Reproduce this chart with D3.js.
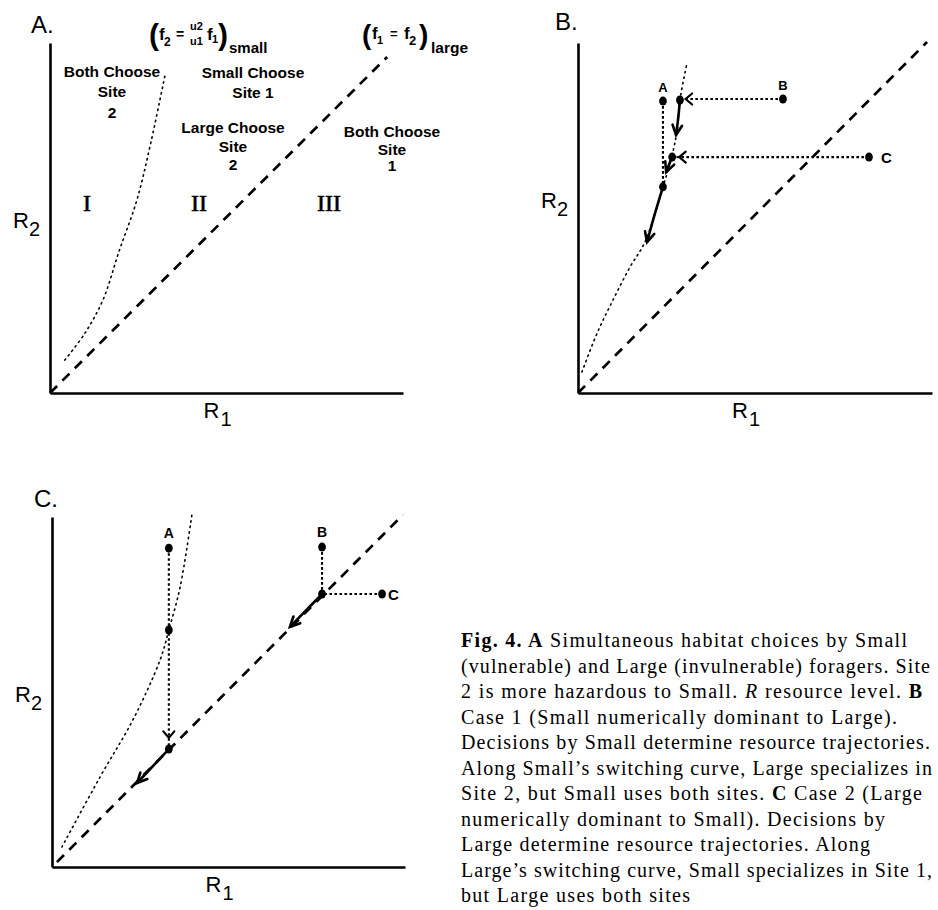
<!DOCTYPE html>
<html><head><meta charset="utf-8">
<script src="https://cdn.jsdelivr.net/npm/d3@7"></script>
<style>body{margin:0;background:#fff}</style>
</head><body>
<svg id="c" width="938" height="910" xmlns="http://www.w3.org/2000/svg"></svg>
<script>
// ---------- data (R1, R2 in arbitrary resource units 0..100) ----------
// switching curve of Small (dotted), per panel
const curveA = [[4.2,9.4],[9.9,17.1],[15.0,26.6],[19.5,40.3],[24.6,55.1],[28.6,71.7],[32.6,90.9]];
const curveB = [[1.1,6.0],[5.4,17.1],[9.9,26.6],[14.7,36.0],[18.9,43.1],[24.0,58.9],[26.6,68.0],[28.0,75.1],[28.8,83.7],[30.8,94.3]];
const curveC = [[2.8,5.7],[13.6,25.7],[22.9,42.0],[30.6,59.1],[33.1,67.7],[36.3,80.0],[39.7,101.1]];
// switching line of Large (dashed, f1 = f2)
const lineA = [[0,0],[95.5,96.0]];
const lineB = [[0,0],[98.6,100.3]];
const lineC = [[1.4,1.4],[99.4,100.6]];

// panel B: starting points, points reached on the curve
const startB = [{id:"A",x:24.0,y:83.4},{id:"B",x:57.9,y:84.0},{id:"C",x:82.2,y:67.4}];
const curvePtsB = [[28.8,83.7],[26.6,67.4],[24.0,58.9]];
const dottedB = [ [[57.9,84.0],[29.2,84.0]], [[82.2,67.4],[27.0,67.4]], [[24.0,83.4],[24.0,59.8]] ];
const chevronB = [ {x:30.4,y:84.0,dir:[-1,0]}, {x:28.6,y:67.4,dir:[-1,0]} ];
const solidB = [ [[28.8,83.7],[28.3,78.5],[27.7,73.7]], [[26.6,67.4],[25.7,65.2],[24.9,63.1]], [[24.0,58.9],[21.6,50.8],[19.5,43.1]] ];

// panel C
const startC = [{id:"A",x:33.1,y:91.1},{id:"B",x:76.5,y:91.4},{id:"C",x:93.5,y:78.0}];
const curvePtsC = [[33.1,67.7],[33.1,33.7],[76.5,78.0]];
const dottedC = [ [[33.1,91.1],[33.1,34.5]], [[76.5,91.4],[76.5,78.0]], [[93.5,78.0],[76.5,78.0]] ];
const chevronC = [ {x:33.1,y:36.9,dir:[0,-1]} ];
const solidC = [ [[33.1,33.7],[24.1,24.0]], [[76.5,78.0],[67.4,68.6]] ];

// region labels for panel A
const regionLabels = [["Both Choose","Site","2"],["Small Choose","Site 1"],["Large Choose","Site","2"],["Both Choose","Site","1"]];
const romanLabels = ["I","II","III"];

// ---------- drawing ----------
const svg = d3.select("#c");
const SANS = "'Liberation Sans', Arial, sans-serif";
const SERIF = "'Liberation Serif', 'Times New Roman', serif";

function panel(x0, x1, y0, y1){
  const x = d3.scaleLinear().domain([0,100]).range([x0, x1]);
  const y = d3.scaleLinear().domain([0,100]).range([y0, y1]);
  return {x, y};
}
const P = {
  A: panel(50, 403, 393, 43),
  B: panel(578, 932, 393, 43),
  C: panel(52, 405, 867, 517)
};

function axes(p){
  const g = svg.append("g");
  g.append("g").attr("transform",`translate(0,${p.y(0)})`)
    .call(d3.axisBottom(p.x).tickValues([]).tickSizeOuter(0));
  g.append("g").attr("transform",`translate(${p.x(0)},0)`)
    .call(d3.axisLeft(p.y).tickValues([]).tickSizeOuter(0));
  g.selectAll(".domain").attr("stroke","#000").attr("stroke-width",2.6);
}
function lineGen(p, curve){ return d3.line().x(d=>p.x(d[0])).y(d=>p.y(d[1])).curve(curve||d3.curveLinear); }

function drawCurve(p, data){
  svg.append("path").attr("d", lineGen(p, d3.curveCatmullRom)(data))
    .attr("fill","none").attr("stroke","#000").attr("stroke-width",1.6)
    .attr("stroke-dasharray","1.4,4.2").attr("stroke-linecap","round");
}
function drawDashed(p, data){
  svg.append("path").attr("d", lineGen(p)(data))
    .attr("fill","none").attr("stroke","#000").attr("stroke-width",2.7)
    .attr("stroke-dasharray","10,7.5");
}
function drawDotted(p, data){
  svg.append("path").attr("d", lineGen(p)(data))
    .attr("fill","none").attr("stroke","#000").attr("stroke-width",2.1)
    .attr("stroke-dasharray","2.6,2.4");
}
function head(px, py, ang, len, spread, sw){
  const a1 = ang + Math.PI - spread, a2 = ang + Math.PI + spread;
  svg.append("path")
    .attr("d",`M${px+len*Math.cos(a1)},${py+len*Math.sin(a1)}L${px},${py}L${px+len*Math.cos(a2)},${py+len*Math.sin(a2)}`)
    .attr("fill","none").attr("stroke","#000").attr("stroke-width",sw).attr("stroke-linejoin","miter").attr("stroke-linecap","round");
}
function drawSolid(p, data){
  svg.append("path").attr("d", lineGen(p, d3.curveCatmullRom)(data))
    .attr("fill","none").attr("stroke","#000").attr("stroke-width",2.6);
  const a = data[data.length-2], b = data[data.length-1];
  const ang = Math.atan2(p.y(b[1])-p.y(a[1]), p.x(b[0])-p.x(a[0]));
  head(p.x(b[0]), p.y(b[1]), ang, 11, 0.45, 2.6);
}
function drawChevron(p, c){
  const ang = Math.atan2(-c.dir[1], c.dir[0]);
  head(p.x(c.x), p.y(c.y), ang, 8.5, 0.7, 2.2);
}
function dots(p, pts){
  svg.append("g").selectAll("ellipse").data(pts).join("ellipse")
    .attr("cx",d=>p.x(d[0])).attr("cy",d=>p.y(d[1])).attr("rx",3.9).attr("ry",4.5).attr("fill","#000");
}
function text(x, y, s, size, opts={}){
  return svg.append("text").attr("x",x).attr("y",y).text(s)
    .attr("font-family",opts.family||SANS).attr("font-size",size)
    .attr("font-weight",opts.weight||"normal").attr("text-anchor",opts.anchor||"start")
    .attr("fill","#000");
}
function axisLabels(p, letter, lx, ly){
  text(lx, ly, letter, 24);
  const r2 = svg.append("text").attr("font-family",SANS).attr("font-size",22).attr("fill","#000")
    .attr("x", p.x(0)-37).attr("y", (p.y(0)+p.y(100))/2 + (letter==="B."?-10:10));
  r2.append("tspan").text("R");
  r2.append("tspan").text("2").attr("dy",8).attr("font-size",20);
  const r1 = svg.append("text").attr("font-family",SANS).attr("font-size",22).attr("fill","#000")
    .attr("x", p.x(43.5)).attr("y", p.y(0)+25);
  r1.append("tspan").text("R");
  r1.append("tspan").text("1").attr("dy",8).attr("font-size",20).attr("dx",1);
}
// one text element made of positioned pieces: [str, x, y, size]
function formula(pieces){
  const t = svg.append("text").attr("font-family",SANS).attr("font-weight","bold").attr("fill","#000");
  pieces.forEach(([s,x,y,sz])=> t.append("tspan").attr("x",x).attr("y",y).attr("font-size",sz).text(s));
}

// ---- Panel A ----
(function(){
  const p = P.A;
  axes(p);
  drawCurve(p, curveA);
  drawDashed(p, lineA);
  axisLabels(p, "A.", 31, 33);
  const B = "bold";
  const pos = [[112,[77,97,118]],[253,[78,98]],[233,[133,152,170]],[392,[137,155,171]]];
  regionLabels.forEach((lines,i)=>{
    lines.forEach((s,j)=> text(pos[i][0], pos[i][1][j], s, 15.5, {weight:B, anchor:"middle"}));
  });
  const rx = [87,199,329];
  romanLabels.forEach((s,i)=> text(rx[i], 211, s, 24, {family:SERIF, anchor:"middle"})
    .attr("stroke","#000").attr("stroke-width",0.6));
  // (f2 = u2/u1 f1)small
  formula([["(",149,45,30],["f",159,40,17],["2",164,46,12],["=",176,39,14],
           ["u2",190,30,11],["u1",190,45,11],["f",207,40,17],["1",212,43,11],
           [")",218,45,30],["small",229,53,15]]);
  // (f1 = f2)large
  formula([["(",362,44,28],["f",372,39,17],["1",377,44,11],["=",390,38,13],
           ["f",404,39,17],["2",409,45,13],[")",419,44,28],["large",431,53,15.5]]);
})();

// ---- Panel B ----
(function(){
  const p = P.B;
  axes(p);
  drawCurve(p, curveB);
  drawDashed(p, lineB);
  axisLabels(p, "B.", 555, 30);
  dottedB.forEach(d=>drawDotted(p, d));
  chevronB.forEach(c=>drawChevron(p, c));
  solidB.forEach(d=>drawSolid(p, d));
  dots(p, startB.map(d=>[d.x,d.y]));
  dots(p, curvePtsB);
  startB.forEach(d=>{
    if(d.id==="C") text(p.x(d.x)+12, p.y(d.y)+5.5, d.id, 15, {weight:"bold"});
    else text(p.x(d.x), p.y(d.y)-9, d.id, 13, {weight:"bold", anchor:"middle"});
  });
})();

// ---- Panel C ----
(function(){
  const p = P.C;
  axes(p);
  drawCurve(p, curveC);
  drawDashed(p, lineC);
  axisLabels(p, "C.", 34, 507);
  dottedC.forEach(d=>drawDotted(p, d));
  chevronC.forEach(c=>drawChevron(p, c));
  solidC.forEach(d=>drawSolid(p, d));
  dots(p, startC.map(d=>[d.x,d.y]));
  dots(p, curvePtsC);
  startC.forEach(d=>{
    if(d.id==="C") text(p.x(d.x)+6, p.y(d.y)+5.5, d.id, 15, {weight:"bold"});
    else text(p.x(d.x), p.y(d.y)-10, d.id, 14, {weight:"bold", anchor:"middle"});
  });
})();

// ---- Caption ----
const caption = [
  [["Fig. 4. A","b"],[" Simultaneous habitat choices by Small",""]],
  [["(vulnerable) and Large (invulnerable) foragers. Site",""]],
  [["2 is more hazardous to Small. ",""],["R","i"],[" resource level. ",""],["B","b"]],
  [["Case 1 (Small numerically dominant to Large).",""]],
  [["Decisions by Small determine resource trajectories.",""]],
  [["Along Small\u2019s switching curve, Large specializes in",""]],
  [["Site 2, but Small uses both sites. ",""],["C","b"],[" Case 2 (Large",""]],
  [["numerically dominant to Small). Decisions by",""]],
  [["Large determine resource trajectories. Along",""]],
  [["Large\u2019s switching curve, Small specializes in Site 1,",""]],
  [["but Large uses both sites",""]]
];
const lineEnds = [907,930,922,897,930,932,922,885,870,932,690];
caption.forEach((segs,i)=>{
  const t = svg.append("text").attr("x",461).attr("y",647+i*25.5)
    .attr("font-family",SERIF).attr("font-size",20).attr("fill","#000")
    .attr("textLength", lineEnds[i]-461).attr("lengthAdjust","spacing");
  segs.forEach(([s,st])=>{
    const ts = t.append("tspan").text(s);
    if(st==="b") ts.attr("font-weight","bold");
    if(st==="i") ts.attr("font-style","italic");
  });
});
</script>
</body></html>
